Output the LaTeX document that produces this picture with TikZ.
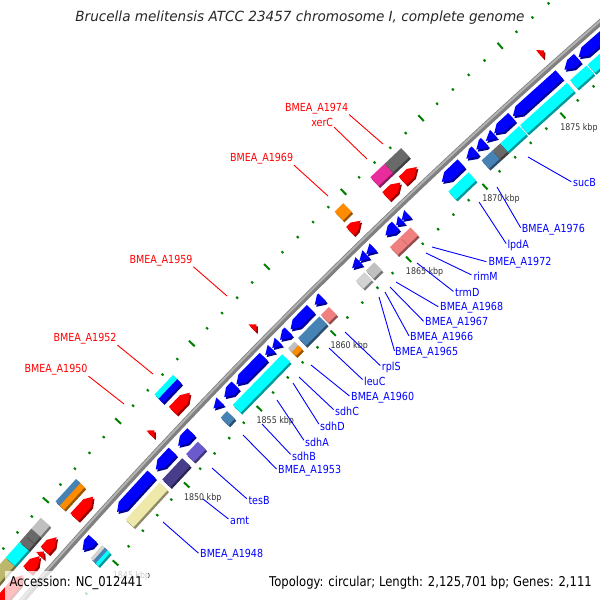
\documentclass[tikz,border=0pt]{standalone}
\usepackage{fontspec}
\newfontfamily\labfont[FakeStretch=0.86]{DejaVu Sans}
\newfontfamily\ttlfont[FakeStretch=0.97]{DejaVu Sans}
\usetikzlibrary{calc}
\definecolor{cgblue}{RGB}{0,0,255}
\definecolor{cgred}{RGB}{255,0,0}
\definecolor{cgcyan}{RGB}{0,255,255}
\definecolor{cgsteel}{RGB}{70,130,180}
\definecolor{cgorange}{RGB}{255,140,0}
\definecolor{cggold}{RGB}{238,232,170}
\definecolor{cgdslate}{RGB}{72,61,139}
\definecolor{cgslate}{RGB}{106,90,205}
\definecolor{cgcoral}{RGB}{240,128,128}
\definecolor{cglgray}{RGB}{211,211,211}
\definecolor{cgsilver}{RGB}{192,192,192}
\definecolor{cgdgray}{RGB}{105,105,105}
\definecolor{cgpink}{RGB}{232,44,156}
\definecolor{cgkhaki}{RGB}{189,183,107}
\definecolor{cgtick}{RGB}{0,128,0}
\definecolor{cglab}{RGB}{51,51,51}
\definecolor{cgbb}{RGB}{128,128,128}
\definecolor{cgbbl}{RGB}{178,178,178}
\definecolor{cgtitle}{RGB}{40,40,40}
\def\FTa{6074}\def\FTb{6086}
\def\FOa{6056}\def\FOb{6067}
\def\ROa{6028}\def\ROb{6039}
\def\RTa{6011}\def\RTb{6022}
\newcommand\cgang[3]{\pgfmathsetmacro#1{225+((#2)/(#3))*81.028}}
\newcommand\cgbox[5]{%
\cgang\cgA{#1}{#3+#4}\cgang\cgB{#2}{#3+#4}%
\fill[#5!60!black,shift={(1.5,2.0)}] (\cgA:#3) -- (\cgA:#4) -- (\cgB:#4) -- (\cgB:#3) -- cycle;
\fill[#5] (\cgA:#3) -- (\cgA:#4) -- (\cgB:#4) -- (\cgB:#3) -- cycle;}
\newcommand\cgrarr[5]{%
\cgang\cgA{#1}{#3+#4}\cgang\cgH{#1+12}{#3+#4}\cgang\cgB{#2}{#3+#4}%
\pgfmathsetmacro\cgM{(#3+#4)/2}%
\fill[#5!60!black,shift={(1.5,2.0)}] (\cgA:\cgM) -- (\cgH:#4) -- (\cgB:#4) -- (\cgB:#3) -- (\cgH:#3) -- cycle;
\fill[#5] (\cgA:\cgM) -- (\cgH:#4) -- (\cgB:#4) -- (\cgB:#3) -- (\cgH:#3) -- cycle;}
\newcommand\cgfarr[5]{%
\cgang\cgA{#1}{#3+#4}\cgang\cgH{#2-12}{#3+#4}\cgang\cgB{#2}{#3+#4}%
\pgfmathsetmacro\cgM{(#3+#4)/2}%
\fill[#5!60!black,shift={(1.5,2.0)}] (\cgB:\cgM) -- (\cgH:#4) -- (\cgA:#4) -- (\cgA:#3) -- (\cgH:#3) -- cycle;
\fill[#5] (\cgB:\cgM) -- (\cgH:#4) -- (\cgA:#4) -- (\cgA:#3) -- (\cgH:#3) -- cycle;}
\newcommand\cgrhead[5]{%
\cgang\cgA{#1}{#3+#4}\cgang\cgB{#2}{#3+#4}%
\pgfmathsetmacro\cgM{(#3+#4)/2}%
\fill[#5!60!black,shift={(1.5,2.0)}] (\cgA:\cgM) -- (\cgB:#4) -- (\cgB:#3) -- cycle;
\fill[#5] (\cgA:\cgM) -- (\cgB:#4) -- (\cgB:#3) -- cycle;}
\newcommand\cgfhead[5]{%
\cgang\cgA{#1}{#3+#4}\cgang\cgB{#2}{#3+#4}%
\pgfmathsetmacro\cgM{(#3+#4)/2}%
\fill[#5!60!black,shift={(1.5,2.0)}] (\cgB:\cgM) -- (\cgA:#4) -- (\cgA:#3) -- cycle;
\fill[#5] (\cgB:\cgM) -- (\cgA:#4) -- (\cgA:#3) -- cycle;}
\begin{document}
\begin{tikzpicture}[x=1pt,y=-1pt,
  tickmark/.style={draw=cgtick,line width=2pt},
  ticklab/.style={font=\labfont\fontsize{9.2}{10}\selectfont,text=cglab,inner sep=0pt,anchor=base west},
  blab/.style={font=\labfont\fontsize{11.1}{13}\selectfont,text=cgblue,inner sep=0pt,anchor=base west},
  rlab/.style={font=\labfont\fontsize{11.1}{13}\selectfont,text=cgred,inner sep=0pt,anchor=base east},
  bline/.style={draw=cgblue,line width=0.9pt,shorten >=2pt},
  rline/.style={draw=cgred,line width=0.9pt,shorten <=1pt},
  foot/.style={font=\labfont\fontsize{13.5}{15}\selectfont,text=black,inner sep=0pt}]
\useasboundingbox (0,0) rectangle (600,600);
\fill[white] (0,0) rectangle (600,600);
\begin{scope}
\clip (0,0) rectangle (600,600);
\begin{scope}[shift={(4576,4576)}]
% ticks
\foreach \p in {1836,...,1882}{
  \pgfmathsetmacro\ta{225+0.2015*(\p-1860)}
  \pgfmathtruncatemacro\mm{mod(\p,5)}
  \ifnum\mm=0
    \draw[tickmark] (\ta:6090) -- (\ta:6098);
    \draw[tickmark] (\ta:5996.5) -- (\ta:6004);
  \else
    \draw[tickmark] (\ta:6092.5) -- (\ta:6095);
    \draw[tickmark] (\ta:6000.5) -- (\ta:6003);
  \fi
}
\foreach \p in {1845,1850,...,1875}{
  \pgfmathsetmacro\ta{225+0.2015*(\p-1860)}
  \node[ticklab] (k\p) at ($(\ta:6000)+(-3,15)$) {\p\ kbp};
}
% R2 ring
\cgbox{-468}{-443}{6018.3}{\RTb}{cglgray}
\cgbox{-468}{-443}{6014.7}{6018.3}{cgsteel}
\cgbox{-468}{-443}{\RTa}{6014.7}{cgcyan}
\cgbox{-394}{-323}{\RTa}{\RTb}{cggold}
\cgbox{-317}{-276}{\RTa}{\RTb}{cgdslate}
\cgbox{-268}{-244}{\RTa}{\RTb}{cgslate}
\cgbox{-197}{-184}{\RTa}{\RTb}{cgsteel}
\cgbox{-172}{-72}{\RTa}{\RTb}{cgcyan}
\cgbox{-60}{-47}{6016.5}{\RTb}{cgsilver}
\cgbox{-60}{-47}{\RTa}{6016.5}{cgorange}
\cgbox{-40}{3}{\RTa}{\RTb}{cgsteel}
\cgbox{6}{22}{\RTa}{\RTb}{cgcoral}
\cgbox{75}{92}{\RTa}{\RTb}{cglgray}
\cgbox{95}{112}{\RTa}{\RTb}{cgsilver}
\cgbox{143}{163}{\RTa}{\RTb}{cgcoral}
\cgbox{163}{183}{\RTa}{\RTb}{cgcoral}
\cgbox{257}{296}{\RTa}{\RTb}{cgcyan}
\cgbox{321}{342}{\RTa}{\RTb}{cgsteel}
\cgbox{342}{357}{\RTa}{\RTb}{cgdgray}
\cgbox{357}{393}{\RTa}{\RTb}{cgcyan}
\cgbox{395}{484}{\RTa}{\RTb}{cgcyan}
\cgbox{490}{521}{\RTa}{\RTb}{cgcyan}
\cgbox{523}{640}{\RTa}{\RTb}{cgcyan}
% R1 ring
\cgrarr{-468}{-446}{\ROa}{\ROb}{cgblue}
\cgrarr{-395}{-323}{\ROa}{\ROb}{cgblue}
\cgrarr{-314}{-279}{\ROa}{\ROb}{cgblue}
\cgrarr{-268}{-241}{\ROa}{\ROb}{cgblue}
\cgrhead{-195}{-181}{\ROa}{\ROb}{cgblue}
\cgrarr{-173}{-150}{\ROa}{\ROb}{cgblue}
\cgrarr{-148}{-93}{\ROa}{\ROb}{cgblue}
\cgrhead{-90}{-77}{\ROa}{\ROb}{cgblue}
\cgrhead{-76}{-63}{\ROa}{\ROb}{cgblue}
\cgrarr{-60}{-43}{\ROa}{\ROb}{cgblue}
\cgrarr{-39}{2}{\ROa}{\ROb}{cgblue}
\cgrarr{10}{25}{\ROa}{\ROb}{cgblue}
\cgrhead{84}{98}{\ROa}{\ROb}{cgblue}
\cgrhead{98}{112}{\ROa}{\ROb}{cgblue}
\cgrhead{112}{126}{\ROa}{\ROb}{cgblue}
\cgrarr{150}{170}{\ROa}{\ROb}{cgblue}
\cgrhead{171}{182}{\ROa}{\ROb}{cgblue}
\cgrhead{182}{194}{\ROa}{\ROb}{cgblue}
\cgrarr{260}{298}{\ROa}{\ROb}{cgblue}
\cgrarr{308}{325}{\ROa}{\ROb}{cgblue}
\cgrarr{327}{343}{\ROa}{\ROb}{cgblue}
\cgrhead{345}{360}{\ROa}{\ROb}{cgblue}
\cgrarr{361}{395}{\ROa}{\ROb}{cgblue}
\cgrarr{397}{485}{\ROa}{\ROb}{cgblue}
\cgrarr{495}{520}{\ROa}{\ROb}{cgblue}
\cgrarr{522}{640}{\ROa}{\ROb}{cgblue}
% F2 ring
\cgbox{-640}{-552}{\FTa}{\FTb}{cgkhaki}
\cgbox{-552}{-522}{\FTa}{\FTb}{cgcyan}
\cgbox{-522}{-510}{\FTa}{\FTb}{cgdgray}
\cgbox{-510}{-497}{\FTa}{\FTb}{cgdgray}
\cgbox{-497}{-477}{\FTa}{\FTb}{cgsilver}
\cgbox{-446}{-403}{6080}{\FTb}{cgsteel}
\cgbox{-446}{-403}{\FTa}{6080}{cgorange}
\cgbox{-240}{-202}{6080}{\FTb}{cgcyan}
\cgbox{-240}{-202}{\FTa}{6080}{cgblue}
\cgbox{123}{140}{\FTa}{\FTb}{cgorange}
\cgbox{193}{221}{\FTa}{\FTb}{cgpink}
\cgbox{221}{253}{\FTa}{\FTb}{cgdgray}
% F1 ring
\cgfarr{-640}{-553}{\FOa}{\FOb}{cgred}
\cgfarr{-543}{-517}{\FOa}{\FOb}{cgred}
\cgfhead{-516}{-508}{\FOa}{\FOb}{cgred}
\cgfarr{-506}{-481}{\FOa}{\FOb}{cgred}
\cgfarr{-443}{-404}{\FOa}{\FOb}{cgred}
\cgfhead{-284}{-276}{\FOa}{\FOb}{cgred}
\cgfarr{-238}{-203}{\FOa}{\FOb}{cgred}
\cgfhead{-76}{-68}{\FOa}{\FOb}{cgred}
\cgfarr{119}{140}{\FOa}{\FOb}{cgred}
\cgfarr{190}{218}{\FOa}{\FOb}{cgred}
\cgfarr{222}{250}{\FOa}{\FOb}{cgred}
\cgfhead{486}{494}{\FOa}{\FOb}{cgred}
% backbone
\draw[line width=6pt,draw=cgbb] (219:6045) arc[start angle=219,end angle=231,radius=6045];
\draw[line width=2pt,draw=cgbbl] (219:6046.2) arc[start angle=219,end angle=231,radius=6046.2];
\end{scope}
\end{scope}
% title
\node[font=\ttlfont\itshape\fontsize{14}{16}\selectfont,text=cgtitle,inner sep=0pt,anchor=base] (title) at (300,21.7) {Brucella melitensis ATCC 23457 chromosome I, complete genome};
% blue labels
\node[blab] (b1) at (573,186.7) {sucB};
\node[blab] (b2) at (521.7,232.3) {BMEA\_A1976};
\node[blab] (b3) at (507.3,248.3) {lpdA};
\node[blab] (b4) at (488.3,265) {BMEA\_A1972};
\node[blab] (b5) at (473.3,280) {rimM};
\node[blab] (b6) at (455,296.7) {trmD};
\node[blab] (b7) at (440,310.5) {BMEA\_A1968};
\node[blab] (b8) at (425,325.5) {BMEA\_A1967};
\node[blab] (b9) at (410,340.5) {BMEA\_A1966};
\node[blab] (b10) at (395,355.5) {BMEA\_A1965};
\node[blab] (b11) at (381.7,370) {rplS};
\node[blab] (b12) at (364,385) {leuC};
\node[blab] (b13) at (351,400) {BMEA\_A1960};
\node[blab] (b14) at (335,415) {sdhC};
\node[blab] (b15) at (320,430) {sdhD};
\node[blab] (b16) at (305,446) {sdhA};
\node[blab] (b17) at (292,460) {sdhB};
\node[blab] (b18) at (278,473.3) {BMEA\_A1953};
\node[blab] (b19) at (248.3,504) {tesB};
\node[blab] (b20) at (230,524) {amt};
\node[blab] (b21) at (200,557.3) {BMEA\_A1948};
\coordinate (c1) at (528,157);
\coordinate (c2) at (497,187);
\coordinate (c3) at (479,202);
\coordinate (c4) at (432,247);
\coordinate (c5) at (426,253);
\coordinate (c6) at (417,263);
\coordinate (c7) at (396,282);
\coordinate (c8) at (390,287);
\coordinate (c9) at (385,292);
\coordinate (c10) at (379,297);
\coordinate (c11) at (345,332);
\coordinate (c12) at (329,348);
\coordinate (c13) at (311,365);
\coordinate (c14) at (299,377);
\coordinate (c15) at (293,383);
\coordinate (c16) at (277,400);
\coordinate (c17) at (262,424);
\coordinate (c18) at (243,435);
\coordinate (c19) at (212,468);
\coordinate (c20) at (203,499);
\coordinate (c21) at (163,522);
\foreach \i in {1,...,21}{\draw[bline] (c\i) -- (b\i.west);}
% red labels
\node[rlab] (r1) at (348.3,111) {BMEA\_A1974};
\node[rlab] (r2) at (333.3,126) {xerC};
\node[rlab] (r3) at (293.3,161.7) {BMEA\_A1969};
\node[rlab] (r4) at (192.7,263.3) {BMEA\_A1959};
\node[rlab] (r5) at (116.7,341.7) {BMEA\_A1952};
\node[rlab] (r6) at (87.7,372.7) {BMEA\_A1950};
\coordinate (e1) at (383,144);
\coordinate (e2) at (367,159);
\coordinate (e3) at (328,196);
\coordinate (e4) at (227,296);
\coordinate (e5) at (153,374);
\coordinate (e6) at (124,404);
\foreach \i in {1,...,6}{\draw[rline] (r\i.south east) -- (e\i);}
% footer
\fill[white,opacity=0.75] (5,571) rectangle (148,600);
\node[foot,anchor=base west] (acc) at (9.3,586.7) {Accession: NC\_012441};
\node[foot,anchor=base east] (topo) at (592,586.7) {Topology: circular; Length: 2,125,701 bp; Genes: 2,111};
\end{tikzpicture}
\end{document}
